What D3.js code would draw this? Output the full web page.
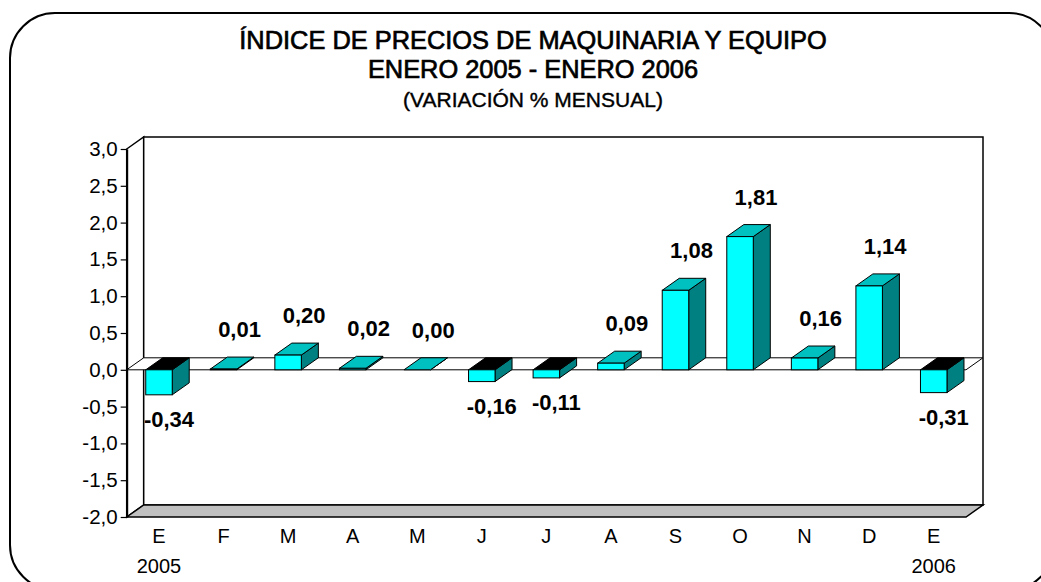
<!DOCTYPE html>
<meta charset="utf-8">
<script src="https://d3js.org/d3.v7.min.js"></script>
<style>
  body { margin: 0; background: #fff; }
  text { font-family: "Liberation Sans", Arial, sans-serif; fill: #000; }
</style>
<svg id="chart" width="1041" height="582"></svg>
<script>

// Data
var months = ["E", "F", "M", "A", "M", "J", "J", "A", "S", "O", "N", "D", "E"];
var years  = ["2005", "", "", "", "", "", "", "", "", "", "", "", "2006"];
var values = [-0.34, 0.01, 0.20, 0.02, 0.00, -0.16, -0.11, 0.09, 1.08, 1.81, 0.16, 1.14, -0.31];
var yTicks = [-2.0, -1.5, -1.0, -0.5, 0.0, 0.5, 1.0, 1.5, 2.0, 2.5, 3.0];
var titleLines = ["ÍNDICE DE PRECIOS DE MAQUINARIA Y EQUIPO", "ENERO 2005 - ENERO 2006", "(VARIACIÓN % MENSUAL)"];

var svg = d3.select("#chart");

// outer rounded frame
svg.append("rect")
    .attr("x", 10).attr("y", 13)
    .attr("width", 1044).attr("height", 577)
    .attr("rx", 45).attr("ry", 45)
    .attr("fill", "none")
    .attr("stroke", "#000")
    .attr("stroke-width", 2);

// titles
svg.append("g").selectAll("text")
    .data(titleLines)
    .enter().append("text")
      .attr("x", 533)
      .attr("y", function(d, i){ return [49, 78, 107][i] })
      .attr("text-anchor", "middle")
      .attr("stroke", "#000")
      .attr("stroke-width", function(d, i){ return i < 2 ? 0.7 : 0.4 })
      .style("font-size", function(d, i){ return i < 2 ? "25.4px" : "21px" })
      .text(function(d){ return d });

// plot geometry (front plane + depth offset)
var pLeft = 126.7, pRight = 966, pTop = 149, pBottom = 517;
var dx = 17, dy = -12;

var x = d3.scaleBand()
    .domain(d3.range(values.length))
    .range([pLeft, pRight]);

var y = d3.scaleLinear()
    .domain([-2, 3])
    .range([pBottom, pTop]);

var fmt = function(v, n){ return v.toFixed(n).replace(".", ",") };

// side wall (left)
svg.append("path")
    .attr("d", "M" + pLeft + "," + pTop + "L" + (pLeft + dx) + "," + (pTop + dy) +
               "L" + (pLeft + dx) + "," + (pBottom + dy) + "L" + pLeft + "," + pBottom + "Z")
    .attr("fill", "#fff").attr("stroke", "#000").attr("stroke-width", 1.5);

// back wall
svg.append("rect")
    .attr("x", pLeft + dx).attr("y", pTop + dy)
    .attr("width", pRight - pLeft).attr("height", pBottom - pTop)
    .attr("fill", "#fff").attr("stroke", "#000").attr("stroke-width", 1.5);

// floor
svg.append("path")
    .attr("d", "M" + pLeft + "," + pBottom + "L" + (pLeft + dx) + "," + (pBottom + dy) +
               "L" + (pRight + dx) + "," + (pBottom + dy) + "L" + pRight + "," + pBottom + "Z")
    .attr("fill", "#c0c0c0").attr("stroke", "#000").attr("stroke-width", 1.5);

// zero plane
var y0 = y(0);
svg.append("path")
    .attr("d", "M" + pLeft + "," + y0 + "L" + (pLeft + dx) + "," + (y0 + dy) +
               "L" + (pRight + dx) + "," + (y0 + dy) + "L" + pRight + "," + y0 + "Z")
    .attr("fill", "#fff").attr("stroke", "#000").attr("stroke-width", 1);

// y axis
var yAxis = svg.append("g")
    .attr("transform", "translate(" + pLeft + ",0)")
    .call(d3.axisLeft(y)
        .tickValues(yTicks)
        .tickSize(6)
        .tickSizeOuter(0)
        .tickPadding(3)
        .tickFormat(function(d){ return fmt(d, 1) }));
yAxis.select(".domain").attr("stroke", "#000").attr("stroke-width", 2);
yAxis.selectAll(".tick line").attr("stroke", "#000").attr("stroke-width", 1.2);
yAxis.selectAll(".tick text")
    .style("font-family", "'Liberation Sans', Arial, sans-serif")
    .style("font-size", "20.5px")
    .attr("fill", "#000");

// bars
var bw = 26.5;
var bars = svg.append("g").selectAll("g")
    .data(values)
    .enter().append("g");

bars.append("path")   // right side
    .attr("d", function(v, i){
        var x1 = x(i) + x.bandwidth() / 2 + bw / 2;
        var yt = y(Math.max(v, 0)), yb = y(Math.min(v, 0));
        return "M" + x1 + "," + yt + "L" + (x1 + dx) + "," + (yt + dy) +
               "L" + (x1 + dx) + "," + (yb + dy) + "L" + x1 + "," + yb + "Z";
    })
    .attr("fill", "#008080").attr("stroke", "#000").attr("stroke-width", 1);

bars.append("path")   // top
    .attr("d", function(v, i){
        var x0 = x(i) + x.bandwidth() / 2 - bw / 2, x1 = x0 + bw;
        var yt = y(Math.max(v, 0));
        return "M" + x0 + "," + yt + "L" + (x0 + dx) + "," + (yt + dy) +
               "L" + (x1 + dx) + "," + (yt + dy) + "L" + x1 + "," + yt + "Z";
    })
    .attr("fill", function(v){ return v < 0 ? "#000" : "#00c0c0" })
    .attr("stroke", "#000").attr("stroke-width", 1);

bars.append("rect")   // front
    .attr("x", function(v, i){ return x(i) + x.bandwidth() / 2 - bw / 2 })
    .attr("y", function(v){ return y(Math.max(v, 0)) })
    .attr("width", bw)
    .attr("height", function(v){ return Math.abs(y(v) - y(0)) })
    .attr("fill", "#00ffff").attr("stroke", "#000").attr("stroke-width", 1);

// value labels
bars.append("text")
    .attr("x", function(v, i){ return x(i) + x.bandwidth() / 2 + (v < 0 ? 10 : 16) })
    .attr("y", function(v){ return v < 0 ? y(v) + 32 : y(v) - 32 })
    .attr("text-anchor", "middle")
    .style("font-size", "22px")
    .style("font-weight", "bold")
    .text(function(v){ return fmt(v, 2) });

// category labels
var cats = svg.append("g").selectAll("text")
    .data(months)
    .enter().append("text")
      .attr("x", function(d, i){ return x(i) + x.bandwidth() / 2 })
      .attr("y", 543)
      .attr("text-anchor", "middle")
      .style("font-size", "20px");
cats.append("tspan").text(function(d){ return d });
cats.append("tspan")
    .attr("x", function(d, i){ return x(i) + x.bandwidth() / 2 })
    .attr("dy", 30)
    .text(function(d, i){ return years[i] });

</script>
